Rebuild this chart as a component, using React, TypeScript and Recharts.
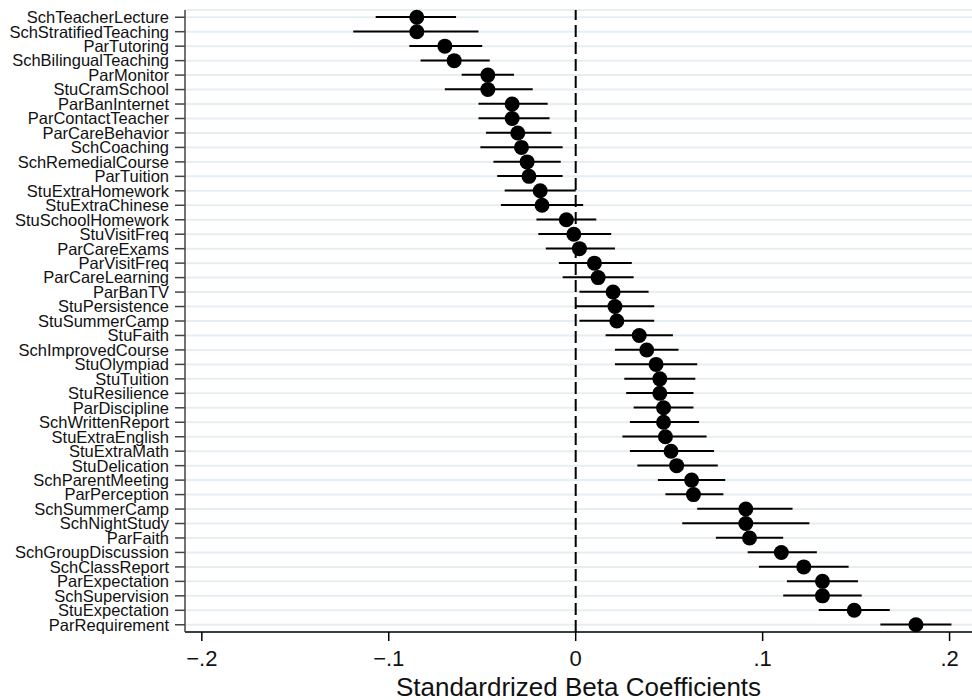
import React from "react";
import {
  ComposedChart,
  Bar,
  Line,
  XAxis,
  YAxis,
  CartesianGrid,
  ReferenceLine,
} from "recharts";

// variables, top to bottom
const labels = [
  "SchTeacherLecture", "SchStratifiedTeaching", "ParTutoring", "SchBilingualTeaching",
  "ParMonitor", "StuCramSchool", "ParBanInternet", "ParContactTeacher", "ParCareBehavior",
  "SchCoaching", "SchRemedialCourse", "ParTuition", "StuExtraHomework", "StuExtraChinese",
  "StuSchoolHomework", "StuVisitFreq", "ParCareExams", "ParVisitFreq", "ParCareLearning",
  "ParBanTV", "StuPersistence", "StuSummerCamp", "StuFaith", "SchImprovedCourse",
  "StuOlympiad", "StuTuition", "StuResilience", "ParDiscipline", "SchWrittenReport",
  "StuExtraEnglish", "StuExtraMath", "StuDelication", "SchParentMeeting", "ParPerception",
  "SchSummerCamp", "SchNightStudy", "ParFaith", "SchGroupDiscussion", "SchClassReport",
  "ParExpectation", "SchSupervision", "StuExpectation", "ParRequirement",
];

// point estimates
const coef = [
  -0.085, -0.085, -0.07, -0.065, -0.047, -0.047, -0.034, -0.034, -0.031, -0.029, -0.026,
  -0.025, -0.019, -0.018, -0.005, -0.001, 0.002, 0.01, 0.012, 0.02, 0.021, 0.022, 0.034,
  0.038, 0.043, 0.045, 0.045, 0.047, 0.047, 0.048, 0.051, 0.054, 0.062, 0.063, 0.091,
  0.091, 0.093, 0.11, 0.122, 0.132, 0.132, 0.149, 0.182,
];

// confidence interval bounds
const lower = [
  -0.107, -0.119, -0.089, -0.083, -0.061, -0.07, -0.052, -0.052, -0.048, -0.051, -0.044,
  -0.042, -0.038, -0.04, -0.021, -0.02, -0.016, -0.009, -0.007, 0.002, 0.0, 0.002, 0.016,
  0.021, 0.021, 0.026, 0.027, 0.031, 0.029, 0.025, 0.029, 0.033, 0.044, 0.048, 0.065,
  0.057, 0.075, 0.092, 0.098, 0.113, 0.111, 0.13, 0.163,
];
const upper = [
  -0.064, -0.052, -0.05, -0.046, -0.033, -0.023, -0.015, -0.014, -0.013, -0.007, -0.008,
  -0.007, 0.0, 0.004, 0.011, 0.019, 0.021, 0.03, 0.031, 0.039, 0.042, 0.042, 0.052,
  0.055, 0.065, 0.064, 0.063, 0.063, 0.066, 0.07, 0.074, 0.076, 0.08, 0.079, 0.116,
  0.125, 0.111, 0.129, 0.146, 0.151, 0.153, 0.168, 0.201,
];

const xTicks = [-0.2, -0.1, 0, 0.1, 0.2];

const data = labels.map((name, i) => ({
  name,
  coef: coef[i],
  ci: [lower[i], upper[i]],
}));

const font = "'Liberation Sans', Arial, Helvetica, sans-serif";

const fmt = (v: number) =>
  v === 0 ? "0" : (v < 0 ? "\u2212" : "") + String(Math.abs(v)).replace(/^0/, "");

const Dot = (props: any) => {
  const { cx, cy } = props;
  if (cx == null || cy == null) return null;
  return <circle cx={cx} cy={cy} r={7.5} fill="#000" />;
};

export default function App() {
  return (
    <div style={{ position: "absolute", left: 0, top: 0, background: "#fff" }}>
      <ComposedChart
        width={972}
        height={700}
        data={data}
        layout="vertical"
        margin={{ top: 10, right: 0, bottom: 0, left: 0 }}
        style={{ fontFamily: font }}
      >
        <CartesianGrid horizontal vertical={false} stroke="#e7eef2" strokeWidth={2} />
        <XAxis
          type="number"
          domain={[-0.209, 0.212]}
          ticks={xTicks}
          tickFormatter={fmt}
          height={68}
          tickSize={9}
          tickMargin={9}
          stroke="#000"
          strokeWidth={1.5}
          tick={{ fill: "#111", fontSize: 22 }}
          allowDataOverflow
          label={{
            value: "Standardrized Beta Coefficients",
            position: "insideBottom",
            offset: 4,
            fill: "#111",
            fontSize: 26,
          }}
        />
        <YAxis
          type="category"
          dataKey="name"
          width={185}
          interval={0}
          tickSize={10}
          tickMargin={6}
          stroke="#444"
          strokeWidth={1.5}
          tick={{ fill: "#111", fontSize: 16.5 }}
        />
        <ReferenceLine x={0} stroke="#000" strokeWidth={2} strokeDasharray="12 5" />
        <Bar dataKey="ci" barSize={2} fill="#000" isAnimationActive={false} />
        <Line
          dataKey="coef"
          stroke="none"
          dot={<Dot />}
          activeDot={false}
          isAnimationActive={false}
        />
      </ComposedChart>
    </div>
  );
}
